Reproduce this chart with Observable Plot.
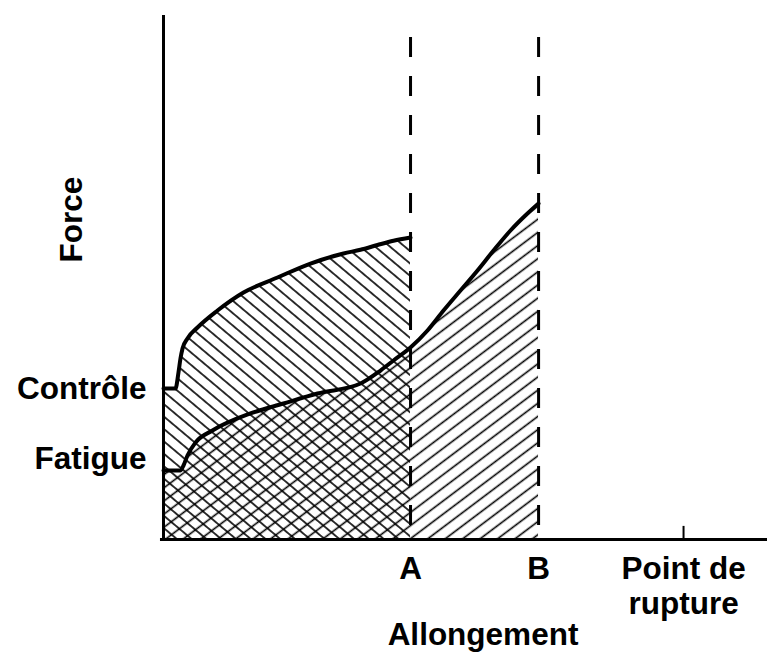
<!DOCTYPE html>
<html><head><meta charset="utf-8">
<script src="https://cdn.jsdelivr.net/npm/d3@7"></script>
<script src="https://cdn.jsdelivr.net/npm/@observablehq/plot@0.6"></script>
<style>body{margin:0;background:#fff}</style>
</head><body><div id="chart"></div>
<script>
// Elongation axis ticks
const xTicks = [40.9, 62.1, 86.1];
const xTickLabels = ["A", "B", "Point de\nrupture"];
// Force axis labels
const yTicks = [28.7, 15.3];
const yTickLabels = ["Contrôle", "Fatigue"];
// Control curve
const ctrlX = [0, 1.99, 2.48, 2.81, 3.15, 3.97, 5.63, 8.94, 13.25, 18.87, 24.34, 29.8, 32.62, 35.43, 38.08, 40.89];
const ctrlY = [28.82, 28.82, 31.87, 34.54, 36.45, 38.36, 40.46, 43.7, 47.14, 50.0, 52.67, 54.58, 55.3, 56.2, 57.0, 57.63];
// Fatigue curve
const fatX = [0, 2.81, 3.31, 3.97, 5.3, 8.11, 14.4, 19.87, 25.5, 32.62, 35.93, 38.08, 40.89, 43.71, 46.36, 49.17, 51.99, 54.64, 57.45, 60.26, 62.09];
const fatY = [13.17, 13.17, 14.12, 16.03, 18.51, 20.8, 24.05, 25.95, 27.86, 29.77, 32.25, 34.16, 36.64, 39.89, 43.7, 47.52, 51.34, 55.15, 58.97, 62.21, 64.12];

const ctrl = ctrlX.map((x, i) => ({x, y: ctrlY[i]}));
const fat = fatX.map((x, i) => ({x, y: fatY[i]}));
const xl = new Map(xTicks.map((t, i) => [t, xTickLabels[i]]));
const yl = new Map(yTicks.map((t, i) => [t, yTickLabels[i]]));

const plot = Plot.plot({
  width: 767, height: 657,
  marginLeft: 163, marginRight: 0, marginTop: 15, marginBottom: 118,
  x: {domain: [0, 100]},
  y: {domain: [0, 100]},
  style: {fontFamily: "'Liberation Sans', Arial, sans-serif", fontSize: "31.5px", fontWeight: "bold", background: "#fff", color: "#000"},
  marks: [
    Plot.areaY(ctrl, {x: "x", y: "y", fill: "url(#hatchC)", curve: "monotone-x"}),
    Plot.areaY(fat, {x: "x", y: "y", fill: "url(#hatchF)", curve: "monotone-x"}),
    Plot.ruleX(xTicks.slice(0, 2), {y1: 95.8, y2: 1.7, stroke: "#000", strokeWidth: 3, strokeDasharray: "20,19"}),
    Plot.ruleX(xTicks.slice(2), {y1: 0, y2: 2.5, stroke: "#000", strokeWidth: 2}),
    Plot.line(ctrl, {x: "x", y: "y", stroke: "#000", strokeWidth: 4, curve: "monotone-x"}),
    Plot.line(fat, {x: "x", y: "y", stroke: "#000", strokeWidth: 4, curve: "monotone-x"}),
    Plot.ruleX([0], {y1: 0, y2: 100, stroke: "#000", strokeWidth: 3}),
    Plot.ruleY([0], {x1: -0.5, x2: 100, stroke: "#000", strokeWidth: 3}),
    Plot.axisX({ticks: xTicks, tickFormat: d => xl.get(d), tickSize: 0, tickPadding: 15, lineHeight: 1.11, label: null}),
    Plot.axisY({ticks: yTicks, tickFormat: d => yl.get(d), tickSize: 0, tickPadding: 17, label: null}),
    Plot.text(["Allongement"], {frameAnchor: "bottom", lineAnchor: "middle", textAnchor: "middle", dx: 17.5, dy: 95, text: d => d}),
    Plot.text(["Force"], {frameAnchor: "left", rotate: -90, textAnchor: "middle", lineAnchor: "middle", dx: -92, dy: -58, text: d => d})
  ]
});

const defs = d3.select(plot).insert("defs", ":first-child");
const pc = defs.append("pattern").attr("id", "hatchC").attr("patternUnits", "userSpaceOnUse")
  .attr("width", 12).attr("height", 9.5).attr("patternTransform", "rotate(40)");
pc.append("line").attr("x1", 0).attr("x2", 12).attr("y1", 4.75).attr("y2", 4.75).attr("stroke", "#000").attr("stroke-width", 1.6);
const pf = defs.append("pattern").attr("id", "hatchF").attr("patternUnits", "userSpaceOnUse")
  .attr("width", 12).attr("height", 10.5).attr("patternTransform", "rotate(-37)");
pf.append("line").attr("x1", 0).attr("x2", 12).attr("y1", 5.25).attr("y2", 5.25).attr("stroke", "#000").attr("stroke-width", 1.6);

document.getElementById("chart").appendChild(plot);
</script>
</body></html>
